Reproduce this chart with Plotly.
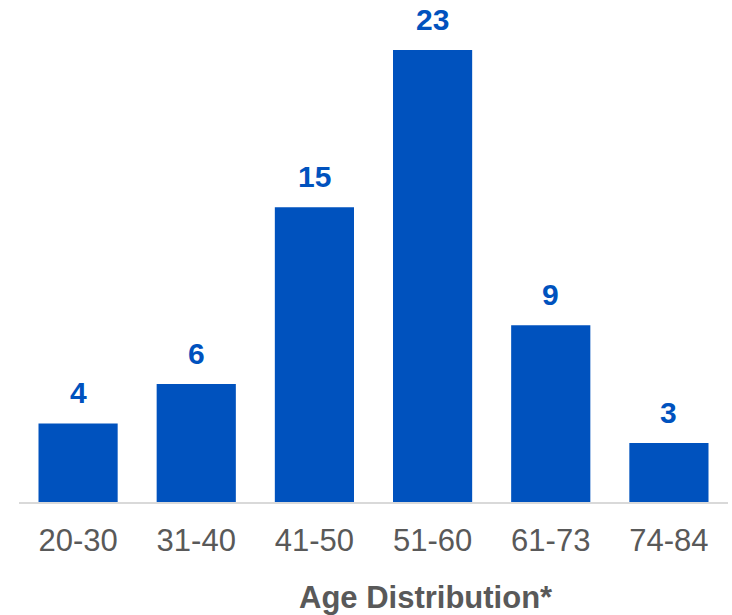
import plotly.graph_objects as go

categories = ["20-30", "31-40", "41-50", "51-60", "61-73", "74-84"]
counts = [4, 6, 15, 23, 9, 3]
x_title = "Age Distribution*"

BLUE = "#0052BE"
GRAY = "#595959"
FONT = "Liberation Sans, Arial, sans-serif"

fig = go.Figure(
    go.Bar(
        x=categories,
        y=counts,
        marker=dict(color=BLUE, line=dict(width=0)),
        hoverinfo="skip",
    )
)

annotations = [
    dict(
        x=c, y=v, xref="x", yref="y",
        text="<b>" + str(v) + "</b>",
        showarrow=False,
        yanchor="bottom",
        yshift=12,
        font=dict(family=FONT, size=30, color=BLUE),
    )
    for c, v in zip(categories, counts)
]

plot_h = 615 - 50 - 113
annotations.append(
    dict(
        text="<b>" + x_title + "</b>",
        x=0.574,
        y=(615 - 113 - 597) / plot_h,
        xref="paper",
        yref="paper",
        yanchor="middle",
        showarrow=False,
        font=dict(family=FONT, size=31, color=GRAY),
    )
)

fig.update_layout(
    width=732,
    height=615,
    margin=dict(l=19, r=4, t=50, b=113),
    plot_bgcolor="white",
    paper_bgcolor="white",
    bargap=0.33,
    showlegend=False,
    font=dict(family=FONT, color=GRAY),
    xaxis=dict(
        showline=True,
        linecolor="#D9D9D9",
        linewidth=2,
        ticks="",
        ticklabelstandoff=10,
        tickfont=dict(family=FONT, size=31, color=GRAY),
        showgrid=False,
        zeroline=False,
    ),
    yaxis=dict(
        range=[0, 23],
        visible=False,
        showgrid=False,
        zeroline=False,
    ),
    annotations=annotations,
)

fig.write_html("out.html")
